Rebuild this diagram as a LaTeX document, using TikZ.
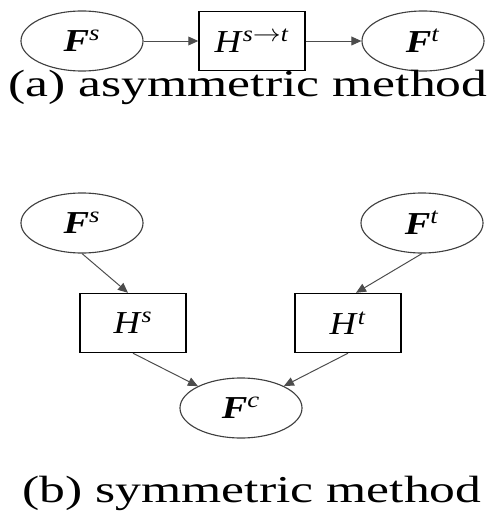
\documentclass[tikz,border=0pt]{standalone}
\usepackage{fontspec}
\usepackage{graphicx}
\setmainfont{Liberation Serif}
\usetikzlibrary{shapes.geometric, arrows.meta}

\newcommand{\featF}[1]{\scalebox{1.2}[1]{\textbf{\textit{F}}\textsuperscript{\textit{#1}}}}
\newcommand{\mapH}[1]{\scalebox{1.15}[1]{\textit{H}\textsuperscript{#1}}}
\newcommand{\wide}[1]{\scalebox{1.36}[1]{#1}}

\begin{document}
\begin{tikzpicture}[x=0.025cm, y=-0.025cm,
    feat/.style={ellipse, draw=black!75, line width=0.8pt, minimum width=3.05cm, minimum height=1.5cm, inner sep=0pt, font=\fontsize{22.7}{26}\selectfont},
    map/.style={rectangle, draw, line width=1pt, minimum width=2.65cm, minimum height=1.475cm, inner sep=0pt, font=\fontsize{22.7}{26}\selectfont},
    flow/.style={-{Triangle[length=0.25cm, width=0.22cm]}, black!70, line width=0.7pt},
    caption/.style={anchor=base, inner sep=0pt, font=\fontsize{27}{32}\selectfont}]
      \useasboundingbox (0,0) rectangle (496,519);
      % (a) asymmetric
      \node[feat] (fsA) at (82,41) {\featF{s}};
      \node[map] (hst) at (252,41) {\mapH{\textit{s}$\rightarrow$\textit{t}}};
      \node[feat] (ftA) at (423,41) {\featF{t}};
      \draw[flow] (fsA) -- (hst);
      \draw[flow] (hst) -- (ftA);
      \node[caption] (capA) at (248,96) {\wide{(a) asymmetric method}};
      % (b) symmetric
      \node[feat] (fsB) at (82,223) {\featF{s}};
      \node[feat] (ftB) at (422,223) {\featF{t}};
      \node[map] (hs) at (133,323) {\mapH{\textit{s}}};
      \node[map] (ht) at (348,323) {\mapH{\textit{t}}};
      \node[feat] (fc) at (241,408) {\featF{c}};
      \draw[flow] (fsB.south) -- ([xshift=-0.125cm]hs.north);
      \draw[flow] (ftB.south) -- ([xshift=0.2cm]ht.north);
      \draw[flow] (hs.south) -- (fc);
      \draw[flow] (ht.south) -- (fc);
      \node[caption] (capB) at (252,502) {\wide{(b) symmetric method}};
    \end{tikzpicture}
\end{document}
